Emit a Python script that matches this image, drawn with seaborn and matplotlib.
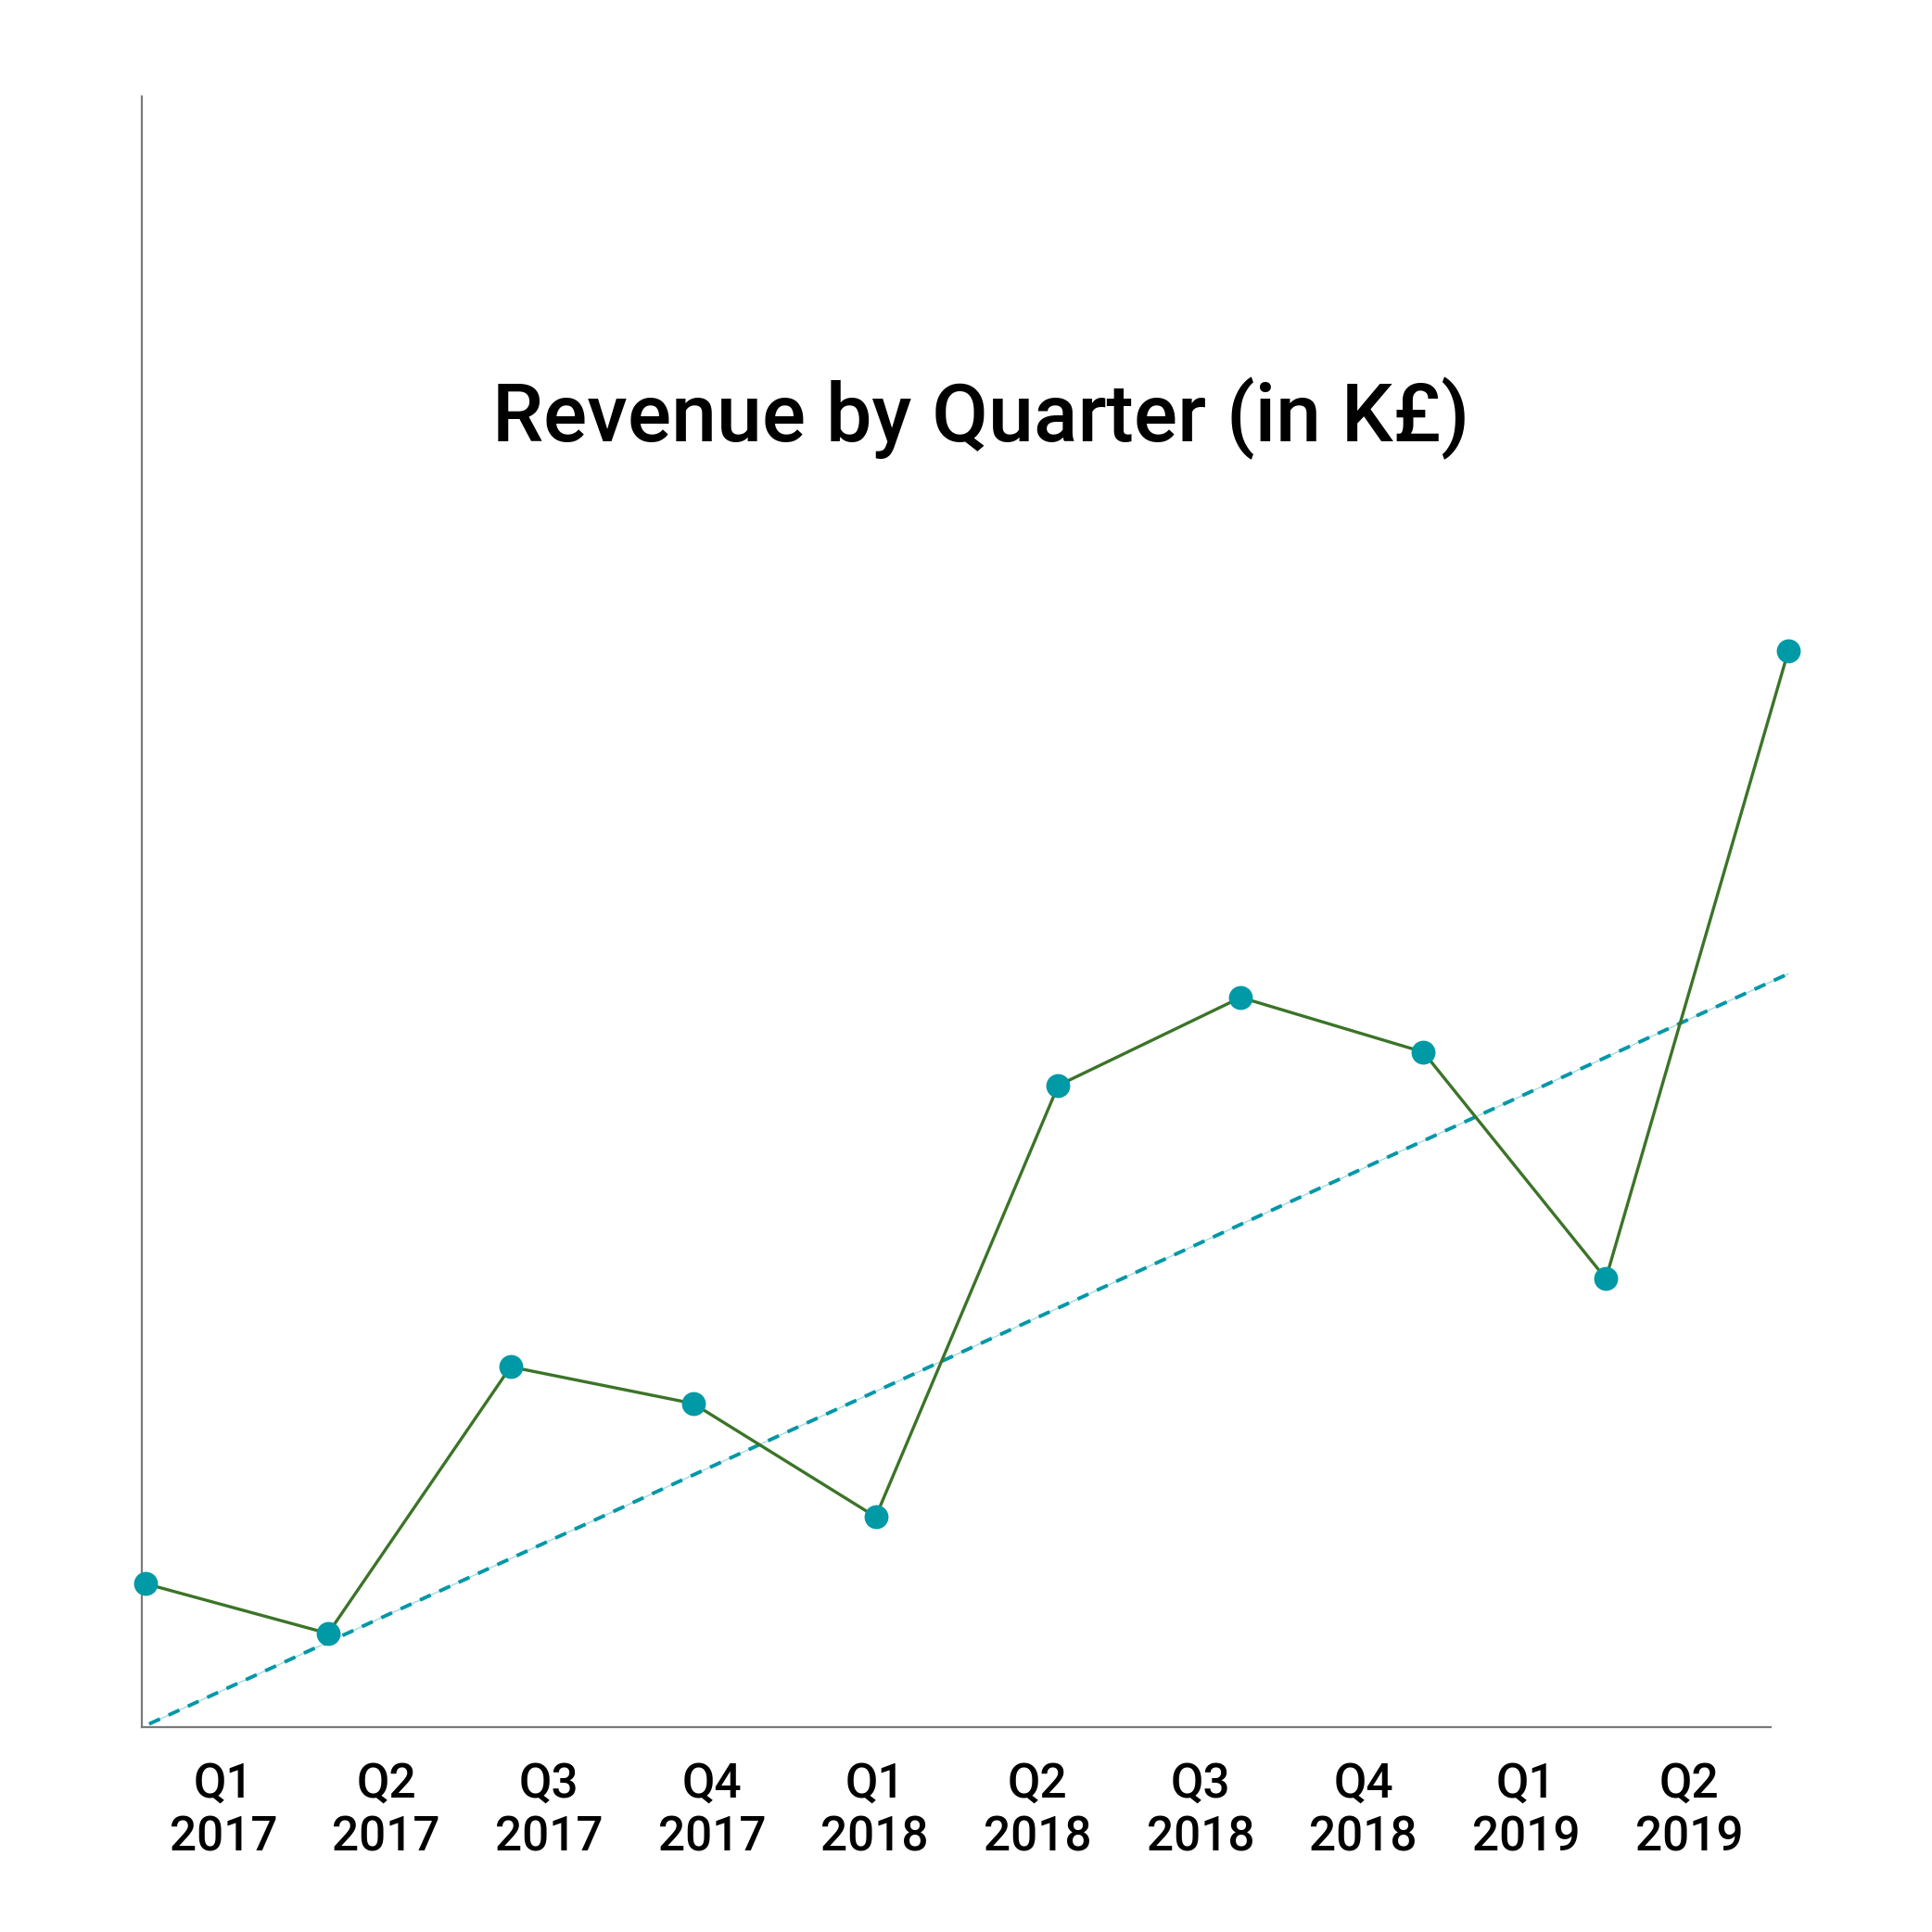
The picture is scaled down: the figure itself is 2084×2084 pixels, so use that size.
import matplotlib
matplotlib.use('Agg')
import matplotlib.pyplot as plt
import seaborn as sns
import pandas as pd

# data
quarters = ['Q1\n2017', 'Q2\n2017', 'Q3\n2017', 'Q4\n2017', 'Q1\n2018',
            'Q2\n2018', 'Q3\n2018', 'Q4\n2018', 'Q1\n2019', 'Q2\n2019']
revenue = [17.6, 11.5, 44.2, 39.7, 25.8, 78.7, 89.5, 82.8, 55.0, 132.0]
trend_idx = [0.02, 9]
trend_val = [0.4, 92.4]

sns.set_style("white")
plt.rcParams['font.family'] = ['Roboto', 'DejaVu Sans']
plt.rcParams['text.color'] = 'black'
plt.rcParams['xtick.color'] = 'black'

fig = plt.figure(figsize=(10.42, 10.42), dpi=200)
ax = fig.add_axes([0.0734, 0.1060, 0.8431, 0.8441])

# category axis for labels
ax.set_xlim(0, len(quarters))
ax.set_ylim(0, 200)
ax.set_xticks([i + 0.5 for i in range(len(quarters))])
ax.set_xticklabels(quarters, fontsize=18.5, fontweight='medium', linespacing=1.22,
                   color='black')
ax.set_yticks([])
ax.tick_params(axis='x', length=0, pad=13)
for s in ['top', 'right']:
    ax.spines[s].set_visible(False)
for s in ['left', 'bottom']:
    ax.spines[s].set_color('#7a7a7a')
    ax.spines[s].set_linewidth(0.8)

# index axis for points
ax2 = ax.twiny()
ax2.set_xlim(-0.0203, 8.903)
ax2.axis('off')

df = pd.DataFrame({'idx': range(len(revenue)), 'revenue': revenue})
tr = pd.DataFrame({'idx': trend_idx, 'val': trend_val})

sns.lineplot(data=tr, x='idx', y='val', ax=ax2, color='#a8dbe0', linewidth=0.5)
sns.lineplot(data=tr, x='idx', y='val', ax=ax2, color='#0097a7', linewidth=1.4,
             dashes=False, linestyle=(0, (3.3, 2.6)))
sns.lineplot(data=df, x='idx', y='revenue', ax=ax2, color='#3b7428', linewidth=1.2,
             marker='o', markersize=9.3, markerfacecolor='#0099a6',
             markeredgecolor='#0099a6', markeredgewidth=0)
for l in ax2.lines:
    l.set_clip_on(False)
ax2.set_ylim(0, 200)

fig.text(0.5077, 0.7835, 'Revenue by Quarter (in K£)', ha='center', va='center',
         fontsize=31.7, fontweight='medium', color='black')

plt.savefig('out.png', dpi=200)
